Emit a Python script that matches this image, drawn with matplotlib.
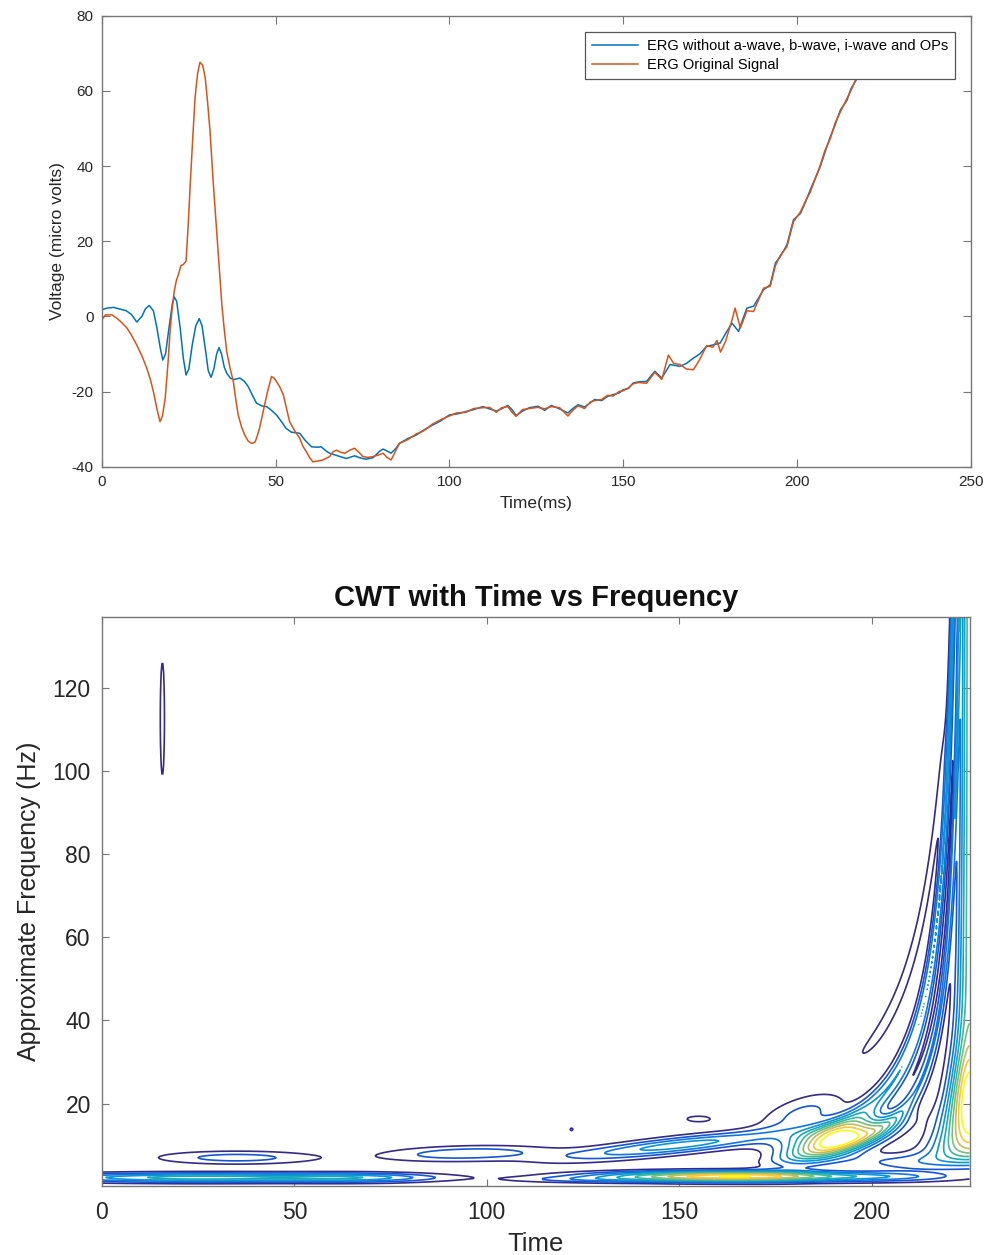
import numpy as np
import matplotlib
matplotlib.use("Agg")
import matplotlib.pyplot as plt
from matplotlib.colors import LinearSegmentedColormap

plt.rcParams['font.family'] = ['Liberation Sans', 'DejaVu Sans']
plt.rcParams['axes.unicode_minus'] = False

# ---- ERG traces (time in ms, voltage in micro volts) ----
erg_clean_t = [0, 1.5, 3.3, 5, 7, 8.5, 10, 11.5, 12.5, 13.6, 14.8, 15.8, 16.8, 17.5, 18.3, 19.3,
               20.2, 20.8, 21.5, 22.5, 23.4, 24.2, 25, 26, 27, 28, 28.8, 29.8, 30.6, 31.4, 32.2,
               33, 33.7, 34.4, 35.2, 35.9, 37, 38, 39.7, 41, 42.1, 43.3, 44.5, 46, 47.4, 48.8,
               50.2, 51.5, 53, 54.5, 56.9, 58.5, 60.3, 62, 63.1, 64.5, 65.5, 67.5, 70.3, 72.7,
               74.5, 76, 78, 80, 80.9, 82, 83.2, 84.5, 85.6, 88, 90.4, 92.5, 95.2, 97.5, 100,
               102, 104.8, 107, 109.6, 111.5, 113.5, 115, 116.8, 118, 119.2, 121, 123, 125.5,
               127.4, 129.3, 131.7, 134.1, 135.5, 137, 138.9, 140.5, 141.8, 143.8, 145.5, 147.1,
               148.8, 150, 151.5, 152.9, 154.5, 156.7, 159.1, 161.1, 163.5, 166.3, 168.2, 170.2,
               172, 174, 175.8, 177.9, 179.5, 181.3, 183.2, 184.5, 185.6, 187.5, 189, 190.4,
               192.3, 193.8, 195.2, 197.1, 199, 201, 202.5, 203.8, 206.7, 208, 209.6, 211,
               212.5, 214.4, 215.5, 217.3, 219, 221]
erg_clean_v = [1.8, 2.2, 2.4, 2, 1.5, 0.5, -1.5, 0, 2, 2.9, 1.5, -3, -8.5, -11.6, -10, -3,
               3, 5.2, 4, -3, -11, -15.6, -14, -7.5, -2.5, -0.6, -2.5, -9, -14.5, -16.2, -14,
               -10, -8.3, -10, -13.5, -15.1, -16.5, -16.8, -16.4, -17.3, -18.7, -21, -23.1, -23.8,
               -24, -25, -26.2, -27.8, -29.8, -30.8, -31.1, -33, -34.7, -34.8, -34.7, -35.8,
               -36.4, -37, -37.8, -37.1, -37.7, -38, -37.6, -35.8, -35.3, -35.8, -36.4, -35.2,
               -33.8, -32.5, -31.6, -30.3, -28.9, -27.8, -26.2, -26, -25.3, -24.8, -24, -24.6,
               -25.2, -24.6, -23.7, -24.8, -26.4, -25.2, -24.3, -23.9, -25, -23.7, -24.6, -25.7,
               -24.5, -23.5, -24.1, -23, -22.1, -22.4, -21.3, -20.8, -20.4, -19.5, -19.2, -17.7,
               -17.4, -17.3, -14.6, -16.4, -12.8, -13.3, -12.5, -11.1, -10, -8, -7.6, -7.1, -4.5,
               -1.8, -4, -0.5, 2.2, 2.7, 5, 7.1, 8.4, 14.2, 15.9, 19, 25.7, 27.4, 30.5, 33.6,
               39.8, 43.5, 47.8, 51, 54.9, 57.5, 60.5, 63.3, 67, 71]

erg_orig_t = [0, 1, 2.9, 4, 5.3, 7.2, 8.5, 10, 11.5, 12.9, 14, 14.8, 15.8, 16.7, 17.4, 18.2, 19,
              19.6, 20.2, 20.8, 21.4, 22, 22.7, 23.4, 24.2, 24.8, 25.4, 26.1, 26.8, 27.5, 28.2,
              29, 29.7, 30.4, 31.1, 32, 33, 33.8, 34.5, 35.2, 35.9, 36.8, 37.8, 38.5, 39.2,
              40.2, 41.1, 42.1, 43.1, 44, 44.5, 45.4, 46.4, 47.6, 48.8, 49.5, 50.2, 51.2, 52.2,
              53.1, 54, 55.5, 56.9, 57.8, 58.8, 59.8, 60.7, 62, 63.6, 65.5, 66.5, 67.5, 68.8,
              69.9, 71.5, 72.7, 74, 75.1, 76.5, 78, 79.5, 80.9, 82, 83.2, 84.4, 85.6, 88, 90.4,
              92.5, 95.2, 97.5, 100, 102, 104.8, 107, 109.6, 111.5, 113.5, 115, 116.8, 118,
              119.2, 121, 123, 125.5, 127.4, 129.3, 131.7, 134.1, 135.5, 137, 138.9, 140.5,
              141.8, 143.8, 145.5, 147.1, 148.8, 150, 151.5, 152.9, 154.5, 156.7, 159.1, 161.1,
              163, 164.5, 166.3, 168.2, 170.2, 172, 174, 175.8, 177, 178, 179.5, 181.3, 182.2,
              183.7, 185.6, 187.5, 189, 190.4, 192.3, 193.8, 195.2, 197.1, 199, 201, 202.5,
              203.8, 206.7, 208, 209.6, 211, 212.5, 214.4, 215.5, 217.3, 219, 221]
erg_orig_v = [-0.9, 0.4, 0.4, -0.3, -1.3, -3.1, -5, -7.6, -10.5, -13.8, -17, -20, -24.5, -28,
              -26.5, -21.8, -12.5, -4, 2, 6.7, 9.5, 11.1, 13.5, 13.8, 14.7, 24, 35.1, 47, 58.2,
              64.5, 67.6, 66.8, 63.6, 57, 49.3, 36, 22.7, 12, 3.1, -3.5, -9.3, -13.5, -17.3,
              -22, -26.2, -29.5, -31.6, -33.2, -33.8, -33.5, -32.4, -29.5, -25.3, -20.2, -16,
              -16.4, -17.3, -18.8, -20.9, -24.5, -28, -30.5, -32.4, -34.5, -36, -37.6, -38.7,
              -38.5, -38.2, -37.3, -36, -35.6, -36.2, -36.4, -35.5, -35.1, -36.2, -37.3, -37.5,
              -37.3, -36.9, -36.4, -37.5, -38.2, -36, -33.8, -32.8, -31.3, -30.5, -28.6, -27.5,
              -26.5, -25.7, -25.5, -24.5, -24.3, -24.2, -25.5, -24.3, -24, -25.5, -26.6, -24.8,
              -24.5, -24.2, -24.6, -24, -24.3, -26.5, -25, -23.8, -24.5, -22.8, -22.4, -22.1,
              -21, -21.2, -20, -19.8, -19, -17.9, -17.6, -17.8, -14.9, -16.8, -10.3, -12.5,
              -12.8, -14, -14.2, -11.5, -7.8, -8.2, -6.4, -9.5, -6.5, -1, 2.2, -3.1, 1.5, 1.3,
              4.5, 7.5, 8, 13.5, 16.2, 18.5, 25.2, 27.8, 30.8, 33, 40.2, 44, 47.3, 51.5, 54.4,
              58, 60, 63.8, 67.3, 71.3]

# ---- CWT magnitude components (time, approx. frequency in Hz) ----
# elliptical patches: centre, spread, tilt (Hz per time unit), peak
blob_t = [15.7, 25, 68, 35, 95, 163, 125, 150, 182, 155, 191, 205, 206, 122]
blob_f = [112.5, 2.2, 2.2, 7.0, 8.0, 2.5, 1.7, 10.0, 17.5, 16.3, 11.2, 6.0, 2.3, 13.8]
blob_st = [0.6, 30, 14, 15, 15.7, 23, 14, 20, 8, 4.1, 9, 10, 12, 0.6]
blob_sf = [15, 0.8, 0.8, 1.15, 1.3, 0.85, 0.5, 1.4, 3, 0.9, 2.6, 1.5, 0.8, 0.5]
blob_slope = [0, 0, 0, 0, 0.02, 0, 0, 0.1, 0.25, 0, 0.25, 0, 0, 0]
blob_amp = [1.5, 5.5, 3, 2.5, 2.8, 10, 1.6, 4.5, 2.3, 1.3, 11, 1.8, 1.6, 1.2]

# edge ridges following t = T - c / f
ridge_T = [227.6, 224.5, 225.0]
ridge_c = [952, 480, 310]
ridge_su = [70, 58, 35]
ridge_amp = [1.35, 4.0, 3.0]
ridge_flo = [30, 14, 12]
ridge_fhi = [110, 170, 170]

# band hugging the end of the record
edge_T = 225.5
edge_s0, edge_s1 = 1.5, 50
edge_amp_hi, edge_bump, edge_bump_f, edge_bump_w = 6.5, 5, 20, 9

cwt_levels = np.arange(1, 11)
parula = LinearSegmentedColormap.from_list("parula", [
    (0.208, 0.166, 0.529), (0.059, 0.360, 0.868), (0.070, 0.498, 0.886),
    (0.025, 0.627, 0.803), (0.137, 0.700, 0.667), (0.368, 0.745, 0.521),
    (0.682, 0.741, 0.402), (0.988, 0.746, 0.239), (0.976, 0.983, 0.054)])

tt, ff = np.meshgrid(np.arange(0, 225.6, 0.2), np.arange(0.25, 137.2, 0.25))
mag = np.zeros_like(tt)
for t0, f0, st, sf, sl, a in zip(blob_t, blob_f, blob_st, blob_sf, blob_slope, blob_amp):
    df = ff - f0 - sl * (tt - t0)
    mag += a * np.exp(-0.5 * (((tt - t0) / st) ** 2 + (df / sf) ** 2))

def sig(x):
    return 1 / (1 + np.exp(-x))

for T, c, su, a, flo, fhi in zip(ridge_T, ridge_c, ridge_su, ridge_amp, ridge_flo, ridge_fhi):
    u = (T - tt) * ff
    env = sig((ff - flo) / 2) * sig((fhi - ff) / 4)
    mag += a * env * np.exp(-0.5 * ((u - c) / su) ** 2)

edge_sig = edge_s0 + edge_s1 / ff
edge_a = (edge_amp_hi + edge_bump * np.exp(-0.5 * ((ff - edge_bump_f) / edge_bump_w) ** 2)) * sig((ff - 6) / 1.5)
mag += edge_a * np.exp(-0.5 * ((edge_T - tt) / edge_sig) ** 2)

fig = plt.figure(figsize=(9.86, 12.55), dpi=100)

spine_col = '#767676'
text_col = '#262626'

# top panel: ERG signals
ax1 = fig.add_axes([0.1034, 0.6281, 0.8811, 0.3594])
ax1.plot(erg_clean_t, erg_clean_v, color='#0072BD', lw=1.1,
         label='ERG without a-wave, b-wave, i-wave and OPs')
ax1.plot(erg_orig_t, erg_orig_v, color='#D95319', lw=1.1, label='ERG Original Signal')
ax1.set_xlim(0, 250)
ax1.set_ylim(-40, 80)
ax1.set_xticks([0, 50, 100, 150, 200, 250])
ax1.set_yticks([-40, -20, 0, 20, 40, 60, 80])
ax1.set_xlabel('Time(ms)', fontsize=12.5, color=text_col, labelpad=5)
ax1.set_ylabel('Voltage (micro volts)', fontsize=12.5, color=text_col, labelpad=5)
ax1.tick_params(direction='in', top=True, right=True, length=6, width=0.8,
                color=spine_col, labelcolor=text_col, labelsize=11, pad=6)
leg = ax1.legend(loc='upper right', bbox_to_anchor=(955 / 986, 1 - 32.3 / 1255),
                 bbox_transform=fig.transFigure, fontsize=10.5, fancybox=False,
                 framealpha=1, edgecolor='#555555', handlelength=3.2, handletextpad=0.6,
                 labelspacing=0.35, borderpad=0.45, borderaxespad=0)
leg.get_frame().set_linewidth(0.9)

# bottom panel: CWT contour
ax2 = fig.add_axes([0.1034, 0.0552, 0.8803, 0.4533])
ax2.contour(tt, ff, mag, levels=cwt_levels, cmap=parula, vmin=1, vmax=10, linewidths=1.2)
ax2.set_xlim(0, 225.5)
ax2.set_ylim(0.25, 137)
ax2.set_xticks([0, 50, 100, 150, 200])
ax2.set_yticks([20, 40, 60, 80, 100, 120])
ax2.set_title('CWT with Time vs Frequency', fontsize=21, fontweight='bold', color='#111111', pad=8)
ax2.set_xlabel('Time', fontsize=18.5, color=text_col, labelpad=6)
ax2.set_ylabel('Approximate Frequency (Hz)', fontsize=18, color=text_col, labelpad=8)
ax2.tick_params(direction='in', top=True, right=True, length=5, width=0.8,
                color=spine_col, labelcolor=text_col, labelsize=16.5)
ax2.tick_params(axis='x', pad=11)
ax2.tick_params(axis='y', pad=8)

for ax in (ax1, ax2):
    for s in ax.spines.values():
        s.set_color(spine_col)
        s.set_linewidth(1.0)

fig.savefig('out.png', dpi=100)
